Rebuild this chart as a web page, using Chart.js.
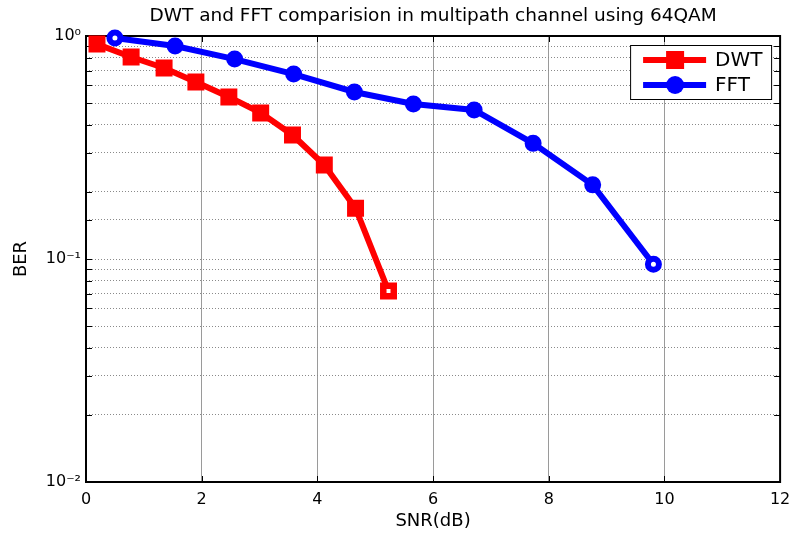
<!DOCTYPE html>
<html><head><meta charset="utf-8">
<script src="https://cdn.jsdelivr.net/npm/chart.js@4.4.1/dist/chart.umd.min.js"></script>
<style>html,body{margin:0;padding:0;background:#fff}canvas{display:block}</style>
</head><body>
<canvas id="c" width="794" height="533"></canvas>
<script>
const titleText = 'DWT and FFT comparision in multipath channel using 64QAM';
const xLabel = 'SNR(dB)';
const yLabel = 'BER';
const seriesNames = ['DWT', 'FFT'];
const dwtSnr = [0.19, 0.78, 1.35, 1.90, 2.47, 3.02, 3.57, 4.12, 4.66, 5.23];
const dwtBer = [0.92, 0.805, 0.719, 0.622, 0.533, 0.452, 0.360, 0.264, 0.169, 0.0718];
const fftSnr = [0.50, 1.54, 2.57, 3.59, 4.64, 5.66, 6.71, 7.73, 8.76, 9.81];
const fftBer = [0.98, 0.902, 0.788, 0.675, 0.561, 0.496, 0.466, 0.330, 0.215, 0.0947];
const xTicks = [0, 2, 4, 6, 8, 10, 12];
const yDecadeValues = [0.01, 0.1, 1];
const yDecadeLabels = ['10\u207B\u00B2', '10\u207B\u00B9', '10\u2070'];

const FONT = 'DejaVu Sans';
const RED = '#ff0000', BLUE = '#0000ff';

function pts(xs, ys) { return xs.map((x, i) => ({ x: x, y: ys[i] })); }
function holeBg(color, holes) {
  return ctx => holes.includes(ctx.dataIndex) ? '#ffffff' : color;
}

const matlabPlugin = {
  id: 'matlabBox',
  beforeDatasetsDraw(chart) {
    const ctx = chart.ctx, a = chart.chartArea;
    const xs = chart.scales.x, ys = chart.scales.y;
    ctx.save();
    ctx.strokeStyle = '#000';
    ctx.lineWidth = 1;
    xTicks.forEach(v => {
      const px = Math.round(xs.getPixelForValue(v)) + 0.5;
      ctx.beginPath();
      ctx.moveTo(px, a.bottom); ctx.lineTo(px, a.bottom - 6);
      ctx.moveTo(px, a.top); ctx.lineTo(px, a.top + 6);
      ctx.stroke();
    });
    ys.ticks.forEach(t => {
      const py = Math.round(ys.getPixelForValue(t.value)) + 0.5;
      ctx.beginPath();
      ctx.moveTo(a.left, py); ctx.lineTo(a.left + 6, py);
      ctx.moveTo(a.right, py); ctx.lineTo(a.right - 6, py);
      ctx.stroke();
    });
    ctx.lineWidth = 2;
    ctx.strokeRect(a.left, a.top, a.right - a.left, a.bottom - a.top);
    ctx.restore();
  },
  afterDraw(chart) {
    const ctx = chart.ctx, a = chart.chartArea;
    const w = 141, h = 54;
    const lx = a.right - 9 - w, ly = a.top + 9;
    ctx.save();
    ctx.fillStyle = '#fff';
    ctx.fillRect(lx, ly, w, h);
    ctx.strokeStyle = '#000';
    ctx.lineWidth = 1;
    ctx.strokeRect(lx + 0.5, ly + 0.5, w, h);
    chart.data.datasets.forEach((ds, i) => {
      const y = ly + 15 + i * 25;
      ctx.strokeStyle = ds.borderColor;
      ctx.lineWidth = 6;
      ctx.beginPath();
      ctx.moveTo(lx + 13, y); ctx.lineTo(lx + 76, y);
      ctx.stroke();
      ctx.fillStyle = ds.borderColor;
      const mx = lx + 45;
      if (ds.pointStyle === 'rect') {
        ctx.fillRect(mx - 9, y - 9, 18, 18);
      } else {
        ctx.beginPath(); ctx.arc(mx, y, 9, 0, Math.PI * 2); ctx.fill();
      }
      ctx.fillStyle = '#000';
      ctx.font = '20px "' + FONT + '"';
      ctx.textBaseline = 'middle';
      ctx.textAlign = 'left';
      ctx.fillText(ds.label, lx + 85, y + 1);
    });
    ctx.restore();
  }
};

new Chart(document.getElementById('c'), {
  type: 'line',
  data: {
    datasets: [
      {
        label: seriesNames[0], data: pts(dwtSnr, dwtBer),
        borderColor: RED, backgroundColor: RED, borderWidth: 6,
        pointStyle: 'rect', pointRadius: 7.4, pointBorderWidth: 6.5,
        pointBorderColor: RED, pointBackgroundColor: holeBg(RED, [dwtSnr.length - 1]),
        clip: false, tension: 0
      },
      {
        label: seriesNames[1], data: pts(fftSnr, fftBer),
        borderColor: BLUE, backgroundColor: BLUE, borderWidth: 6,
        pointStyle: 'circle', pointRadius: 5.5, pointBorderWidth: 6,
        pointBorderColor: BLUE, pointBackgroundColor: holeBg(BLUE, [0, fftSnr.length - 1]),
        clip: false, tension: 0
      }
    ]
  },
  options: {
    responsive: false,
    animation: false,
    devicePixelRatio: 1,
    layout: { padding: { left: 0, right: 10, top: 0, bottom: 0 } },
    plugins: {
      legend: { display: false },
      tooltip: { enabled: false },
      title: {
        display: true, text: titleText, fullSize: false, color: '#000',
        font: { family: FONT, size: 18.5, weight: 'normal', lineHeight: 1.2 },
        padding: { top: 5.5, bottom: 8.3 }
      }
    },
    scales: {
      x: {
        type: 'linear', min: 0, max: 12,
        afterBuildTicks: s => { s.ticks = xTicks.map(v => ({ value: v })); },
        afterFit: s => { s.height = 51; s.paddingRight = 0; s.paddingLeft = 0; },
        ticks: { color: '#000', font: { family: FONT, size: 16 }, padding: 8, maxRotation: 0, autoSkip: false },
        grid: { color: '#9a9a9a', lineWidth: 1, drawTicks: false },
        border: { display: false },
        title: { display: true, text: xLabel, color: '#000', font: { family: FONT, size: 18 }, padding: { top: 0, bottom: 0.5 } }
      },
      y: {
        type: 'logarithmic', min: 0.01, max: 1,
        afterFit: s => { s.width = 86; s.paddingTop = 0; s.paddingBottom = 0; },
        ticks: {
          color: '#000', font: { family: FONT, size: 16 }, padding: 5, autoSkip: false,
          callback: (value) => {
            const i = yDecadeValues.findIndex(d => Math.abs(Math.log10(value) - Math.log10(d)) < 1e-6);
            return i >= 0 ? yDecadeLabels[i] : '';
          }
        },
        grid: { color: '#8a8a8a', lineWidth: 1, drawTicks: false, borderDash: [1, 2] },
        border: { display: false, dash: [1, 2] },
        title: { display: true, text: yLabel, color: '#000', font: { family: FONT, size: 18 }, padding: { top: 10.5, bottom: 0 } }
      }
    }
  },
  plugins: [matlabPlugin]
});
</script>
</body></html>
